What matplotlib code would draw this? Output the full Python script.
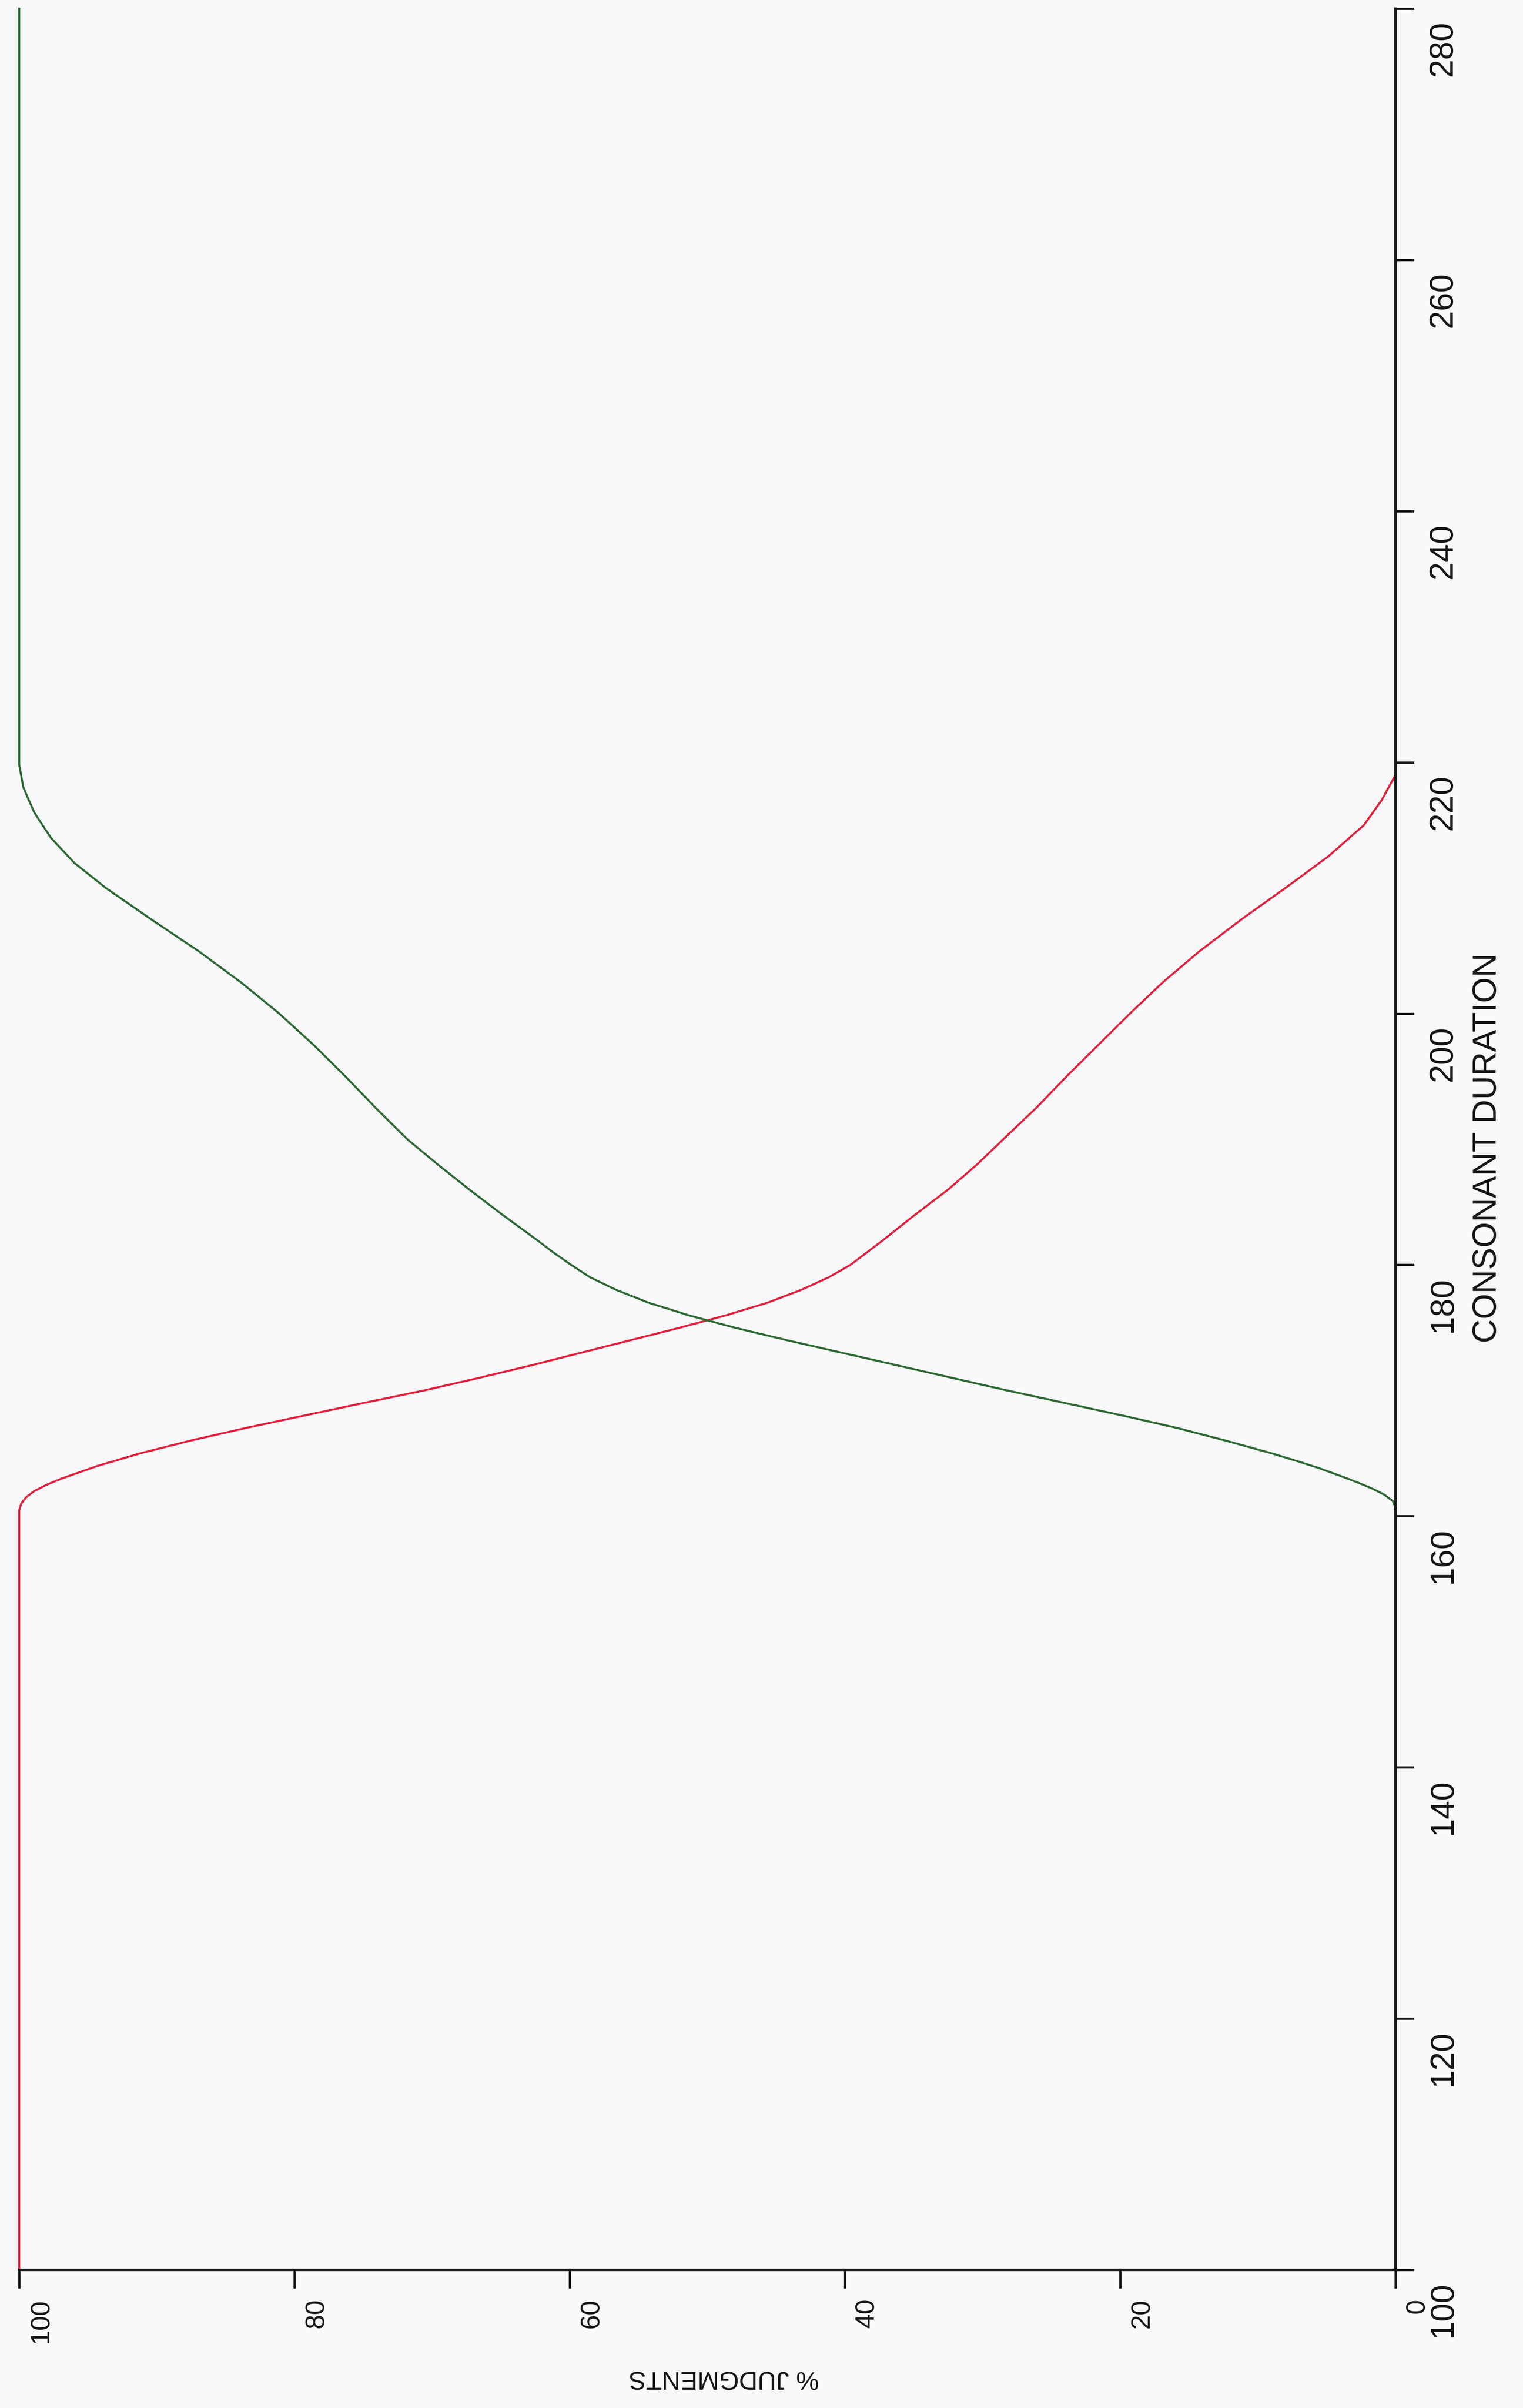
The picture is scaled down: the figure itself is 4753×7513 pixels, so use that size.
import matplotlib
matplotlib.use('Agg')
import matplotlib.pyplot as plt
from matplotlib import font_manager
from matplotlib.transforms import offset_copy, blended_transform_factory

# identification curves, consonant duration (ms) vs % judgments
red_duration = [100, 160.5, 161.0, 161.5, 162.0, 162.5, 163.0, 163.5, 164.0, 165.0, 166.0, 167.0,
                168.0, 169.0, 170.0, 171.0, 172.0, 173.0, 174.0, 175.0, 176.0, 177.0, 178.0, 179.0,
                180.0, 181.0, 182.0, 184.0, 186.0, 188.0, 190.0, 192.5, 195.0, 197.5, 200.0, 202.5,
                205.0, 207.5, 210.0, 212.5, 215.0, 217.0, 219.0, 280]
red_pct = [100, 100, 99.85, 99.5, 98.9, 98.0, 96.9, 95.6, 94.3, 91.2, 87.6, 83.6,
           79.3, 75.0, 70.6, 66.6, 62.8, 59.2, 55.6, 52.0, 48.6, 45.6, 43.2, 41.2,
           39.6, 38.4, 37.2, 34.9, 32.5, 30.4, 28.5, 26.1, 23.9, 21.6, 19.3, 16.9,
           14.2, 11.2, 8.0, 4.9, 2.3, 1.0, 0, 0]

green_duration = [100, 160.7, 161.2, 161.7, 162.2, 162.7, 163.2, 163.8, 164.4, 165.0, 166.0, 167.0,
                  168.0, 169.0, 170.0, 171.0, 172.0, 173.0, 174.0, 175.0, 176.0, 177.0, 178.0, 179.0,
                  180.0, 181.0, 182.0, 184.0, 186.0, 188.0, 190.0, 192.5, 195.0, 197.5, 200.0, 202.5,
                  205.0, 207.5, 210.0, 212.0, 214.0, 216.0, 218.0, 219.8, 280]
green_pct = [0, 0, 0.2, 0.8, 1.7, 2.8, 4.0, 5.5, 7.2, 9.0, 12.3, 15.8,
             19.8, 24.0, 28.2, 32.2, 36.2, 40.2, 44.2, 48.0, 51.4, 54.3, 56.6, 58.5,
             59.9, 61.2, 62.4, 64.9, 67.3, 69.6, 71.8, 74.1, 76.3, 78.6, 81.1, 83.9,
             87.0, 90.4, 93.7, 96.0, 97.7, 98.9, 99.7, 100, 100]

duration_ticks = [100, 120, 140, 160, 180, 200, 220, 240, 260, 280]
pct_ticks = [100, 80, 60, 40, 20, 0]

xlabel = 'CONSONANT DURATION'
ylabel = '% JUDGMENTS'

# plotter lettering is narrow - use the narrow face if it's installed,
# otherwise plain Liberation Sans a bit smaller
have = {f.name for f in font_manager.fontManager.ttflist}
if 'Liberation Sans Narrow' in have:
    font, squeeze = 'Liberation Sans Narrow', 1.0
else:
    font, squeeze = 'Liberation Sans', 0.85
fonts = [font, 'DejaVu Sans']

paper = '#f9f9fb'
ink = '#151515'

W, H = 4753, 7513
fig = plt.figure(figsize=(W / 100, H / 100), dpi=100, facecolor=paper)

# the sheet is turned on its side: duration runs up the right edge,
# percent runs right-to-left along the bottom
ax = fig.add_axes([60 / W, 1 - 7082 / H, (4355 - 60) / W, (7082 - 27) / H])
ax.set_facecolor(paper)

ax.plot(red_pct, red_duration, color='#e4203c', lw=4.5, clip_on=False, zorder=2,
        solid_joinstyle='round')
ax.plot(green_pct, green_duration, color='#2c6a32', lw=4.5, clip_on=False, zorder=2,
        solid_joinstyle='round')

ax.set_xlim(100, 0)
ax.set_ylim(100, 280)

for s in ['top', 'left']:
    ax.spines[s].set_visible(False)
for s in ['bottom', 'right']:
    ax.spines[s].set_linewidth(5.5)
    ax.spines[s].set_color(ink)
    ax.spines[s].set_zorder(3)

ax.set_xticks(pct_ticks)
ax.set_yticks(duration_ticks)
ax.yaxis.tick_right()
ax.tick_params(axis='both', direction='out', length=42, width=5, color=ink,
               labelbottom=False, labelright=False, labelleft=False)

# tick labels by hand, rotated and hung off the tick like the plotter did
dur_trans = offset_copy(blended_transform_factory(ax.transAxes, ax.transData),
                        fig=fig, x=100, y=-38, units='dots')
for d in duration_ticks:
    ax.text(1, d, str(d), transform=dur_trans, rotation=90, ha='left', va='top',
            fontsize=88 * squeeze, family=fonts, color=ink)

pct_trans = offset_copy(blended_transform_factory(ax.transData, ax.transAxes),
                        fig=fig, x=28, y=-90, units='dots')
for p in pct_ticks:
    ax.text(p, 0, str(p), transform=pct_trans, rotation=90, ha='left', va='top',
            fontsize=70 * squeeze, family=fonts, color=ink)

fig.text(4643 / W, 1 - 3582 / H, xlabel, rotation=90, ha='center', va='center',
         fontsize=92 * squeeze * (0.95 if squeeze < 1 else 1.0), family=fonts, color=ink)
fig.text(2259 / W, 1 - 7420 / H, ylabel, rotation=180, ha='center', va='center',
         fontsize=68 * squeeze, family=fonts, color=ink)

fig.savefig('out.png', dpi=100, facecolor=paper)
